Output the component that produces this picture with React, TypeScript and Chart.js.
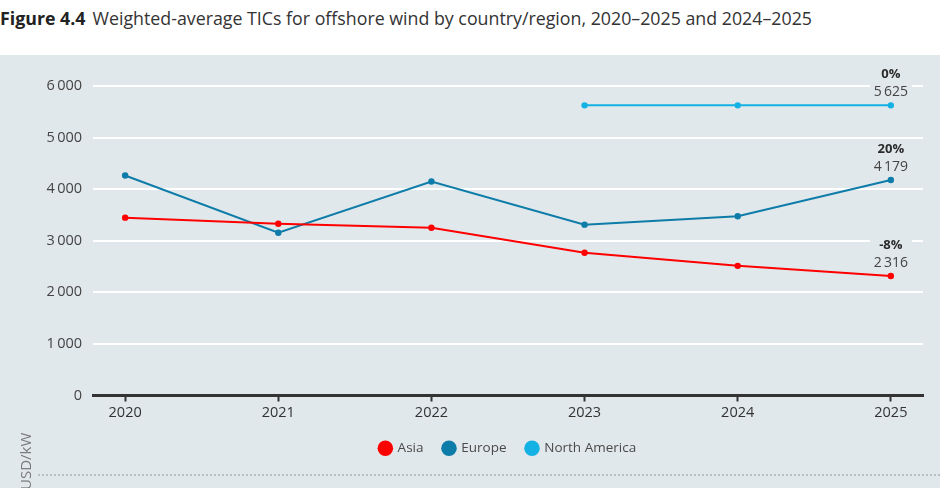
import React, { useEffect, useRef } from "react";
import { Chart, registerables } from "chart.js";

Chart.register(...registerables);

// Weighted-average total installed costs (USD/kW), offshore wind
const years = [2020, 2021, 2022, 2023, 2024, 2025];
const asiaValues = [3448, 3331, 3253, 2766, 2513, 2316];
const europeValues = [4266, 3156, 4150, 3312, 3475, 4179];
const northAmericaValues = [null, null, null, 5625, 5625, 5625];
const seriesNames = ["Asia", "Europe", "North America"];
const seriesColors = ["#ff0000", "#0d7ca8", "#14b1e4"];
// change 2024–2025 shown next to each series' latest value
const changeLabels = ["-8%", "20%", "0%"];
const yTicks = [0, 1000, 2000, 3000, 4000, 5000, 6000];

const PANEL = "#e1e8eb";
const FONT = "'Open Sans', 'Noto Sans', sans-serif";

const fmt = (v: number) =>
  Math.round(v)
    .toString()
    .replace(/\B(?=(\d{3})+(?!\d))/g, "\u2009");

const endLabels = {
  id: "endLabels",
  beforeDatasetsDraw(chart: any) {
    const { ctx } = chart;
    chart.data.datasets.forEach((_: any, i: number) => {
      const meta = chart.getDatasetMeta(i);
      const pt = meta.data[meta.data.length - 1];
      ctx.save();
      ctx.fillStyle = PANEL;
      ctx.fillRect(pt.x - 21, pt.y - 40, 42, 34);
      ctx.restore();
    });
  },
  afterDatasetsDraw(chart: any) {
    const { ctx } = chart;
    chart.data.datasets.forEach((ds: any, i: number) => {
      const meta = chart.getDatasetMeta(i);
      const idx = meta.data.length - 1;
      const pt = meta.data[idx];
      const raw = ds.data[idx];
      ctx.save();
      ctx.textAlign = "center";
      ctx.textBaseline = "middle";
      ctx.fillStyle = "#2b2b2b";
      ctx.font = `bold 13px ${FONT}`;
      ctx.fillText(changeLabels[i], pt.x, pt.y - 31);
      ctx.fillStyle = "#444";
      ctx.font = `14px ${FONT}`;
      ctx.fillText(fmt(raw.y), pt.x, pt.y - 13);
      ctx.restore();
    });
  },
};

export default function App() {
  const ref = useRef<HTMLCanvasElement | null>(null);

  useEffect(() => {
    document.body.style.margin = "0";
    const series = [asiaValues, europeValues, northAmericaValues];
    const chart = new Chart(ref.current!, {
      type: "line",
      data: {
        datasets: series.map((vals, i) => ({
          label: seriesNames[i],
          data: years.map((y, j) => ({ x: y, y: vals[j] })),
          borderColor: seriesColors[i],
          backgroundColor: seriesColors[i],
          borderWidth: 2,
          pointRadius: 3.2,
          pointHoverRadius: 3.2,
          pointBorderWidth: 0,
          spanGaps: false,
          tension: 0,
        })),
      },
      options: {
        animation: false,
        responsive: false,
        maintainAspectRatio: false,
        layout: { padding: { top: 31, right: 17, bottom: 0, left: 0 } },
        plugins: {
          tooltip: { enabled: false },
          legend: {
            position: "bottom",
            fullSize: false,
            labels: {
              usePointStyle: true,
              pointStyle: "circle",
              boxWidth: 11,
              boxHeight: 11,
              padding: 20,
              color: "#4a4a4a",
              font: { family: FONT, size: 13.5 },
            },
          },
        },
        scales: {
          x: {
            type: "linear",
            min: 2019.79,
            max: 2025.21,
            afterBuildTicks: (axis: any) => {
              axis.ticks = years.map((v) => ({ value: v }));
            },
            afterFit: (axis: any) => {
              axis.height = 26;
            },
            grid: {
              drawOnChartArea: false,
              drawTicks: true,
              tickLength: 6,
              tickColor: "#333",
              tickWidth: 2,
            },
            border: { display: true, color: "#333", width: 3 },
            ticks: {
              color: "#333",
              padding: 3,
              font: { family: FONT, size: 14.5 },
              callback: (v: any) => String(v),
            },
          },
          y: {
            min: 0,
            max: 6000,
            afterBuildTicks: (axis: any) => {
              axis.ticks = yTicks.map((v) => ({ value: v }));
            },
            afterFit: (axis: any) => {
              axis.width = 93;
            },
            grid: {
              drawTicks: false,
              lineWidth: 2,
              color: (c: any) => (c.tick && c.tick.value === 0 ? "rgba(0,0,0,0)" : "#ffffff"),
            },
            border: { display: false },
            ticks: {
              color: "#444",
              padding: 11,
              font: { family: FONT, size: 14.5 },
              callback: (v: any) => fmt(Number(v)),
            },
          },
        },
      },
      plugins: [endLabels],
    });
    return () => chart.destroy();
  }, []);

  return (
    <div
      style={{
        position: "relative",
        width: 940,
        height: 488,
        overflow: "hidden",
        background: "#ffffff",
        fontFamily: FONT,
      }}
    >
      <div
        style={{
          position: "absolute",
          left: 0,
          top: 7,
          fontSize: 17.8,
          color: "#333",
          whiteSpace: "nowrap",
          lineHeight: "22px",
        }}
      >
        <span style={{ fontWeight: 700, color: "#222" }}>Figure 4.4</span>
        <span style={{ marginLeft: 7 }}>
          Weighted-average TICs for offshore wind by country/region, 2020–2025 and 2024–2025
        </span>
      </div>
      <div
        style={{
          position: "absolute",
          left: 0,
          top: 55,
          width: 940,
          height: 433,
          background: PANEL,
        }}
      >
        <canvas ref={ref} width={940} height={410} style={{ display: "block" }} />
        <div
          style={{
            position: "absolute",
            left: 38,
            right: 0,
            top: 419,
            borderTop: "2px dotted #b9c0c4",
          }}
        />
        <div
          style={{
            position: "absolute",
            left: 16,
            top: 435,
            transform: "rotate(-90deg)",
            transformOrigin: "0 0",
            fontSize: 15,
            color: "#7a7a7a",
            whiteSpace: "nowrap",
            lineHeight: "18px",
          }}
        >
          USD/kW
        </div>
      </div>
    </div>
  );
}
